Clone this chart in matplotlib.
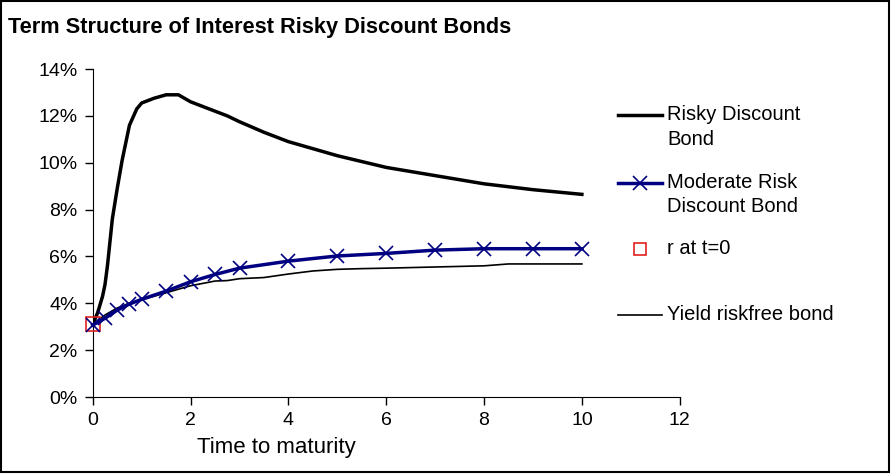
import matplotlib.pyplot as plt
from matplotlib.lines import Line2D
from matplotlib.patches import Rectangle
from matplotlib.ticker import FuncFormatter

plt.rcParams['font.family'] = ['Liberation Sans', 'DejaVu Sans']

# Risky discount bond yield curve (%)
risky_t = [0, 0.1, 0.2, 0.25, 0.3, 0.4, 0.5, 0.6, 0.75, 0.9, 1, 1.25, 1.5, 1.75,
           2, 2.5, 2.75, 3, 3.5, 4, 5, 6, 7, 8, 9, 10]
risky_y = [3.1, 3.6, 4.3, 4.8, 5.6, 7.6, 8.9, 10.1, 11.6, 12.3, 12.55, 12.75, 12.9, 12.9,
           12.6, 12.2, 12.0, 11.75, 11.3, 10.9, 10.3, 9.8, 9.45, 9.1, 8.85, 8.65]

# Moderate risk discount bond (%)
mod_t = [0, 0.25, 0.5, 0.75, 1, 1.5, 2, 2.5, 3, 4, 5, 6, 7, 8, 9, 10]
mod_y = [3.07, 3.36, 3.71, 3.97, 4.17, 4.52, 4.92, 5.23, 5.5, 5.8, 6.02, 6.13, 6.27, 6.33, 6.33, 6.33]

# short rate at t=0 (%)
r0_t = [0]
r0_y = [3.1]

# Yield of riskfree bond (%)
rf_t = [0, 0.25, 0.5, 0.75, 1, 1.5, 2, 2.5, 2.75, 3, 3.5, 4, 4.5, 5, 5.5, 6, 7, 8, 8.5, 9, 10]
rf_y = [3.1, 3.5, 3.8, 4.0, 4.15, 4.45, 4.75, 4.95, 4.97, 5.05, 5.1, 5.25, 5.38, 5.45,
        5.48, 5.5, 5.55, 5.6, 5.68, 5.68, 5.68]

labels = ['Risky Discount\nBond', 'Moderate Risk\nDiscount Bond', 'r at t=0', 'Yield riskfree bond']

fig = plt.figure(figsize=(8.92, 4.74), dpi=100)
ax = fig.add_axes([0.104, 0.1624, 0.658, 0.692])

navy = '#000080'
ax.plot(risky_t, risky_y, color='black', lw=2.5, zorder=3)
ax.plot(r0_t, r0_y, ls='none', marker='s', ms=10, mfc='none', mec='#e02020', mew=1.2,
        zorder=5, clip_on=False)
ax.plot(mod_t, mod_y, color=navy, lw=2.5, marker='x', ms=10, mew=1.2, zorder=6, clip_on=False)
ax.plot(rf_t, rf_y, color='black', lw=1.2, zorder=3)

ax.set_xlim(0, 12)
ax.set_ylim(0, 14)
ax.set_xticks(range(0, 13, 2))
ax.set_yticks(range(0, 15, 2))
ax.yaxis.set_major_formatter(FuncFormatter(lambda v, p: f'{v:.0f}%'))
ax.tick_params(labelsize=14, length=6, width=1, direction='out', pad=5)
for s in ['top', 'right']:
    ax.spines[s].set_visible(False)

# legend, drawn by hand so the key sits on the first line of each label
W, H = 892.0, 474.0
ys = [115, 183, 249, 315]
for i, (lab, yy) in enumerate(zip(labels, ys)):
    fy = 1 - yy / H
    if i == 0:
        fig.add_artist(Line2D([618 / W, 662 / W], [fy, fy], color='black', lw=2.5))
    elif i == 1:
        fig.add_artist(Line2D([618 / W, 662 / W], [fy, fy], color=navy, lw=2.5))
        fig.add_artist(Line2D([640 / W], [fy], marker='x', color=navy, ms=10, mew=1.2))
    elif i == 2:
        fig.add_artist(Line2D([640 / W], [fy], marker='s', ms=8, mfc='none',
                              mec='#e02020', mew=1.2))
    else:
        fig.add_artist(Line2D([618 / W, 662 / W], [fy, fy], color='black', lw=1.2))
    fig.text(667 / W, fy, lab.split('\n')[0], fontsize=14.5, va='center')
    if '\n' in lab:
        fig.text(667 / W, 1 - (yy + 24) / H, lab.split('\n')[1], fontsize=14.5, va='center')

fig.text(197 / W, 1 - 447 / H, 'Time to maturity', fontsize=16, va='center')
fig.text(8 / W, 1 - 27 / H, 'Term Structure of Interest Risky Discount Bonds', fontsize=15.7,
         fontweight='bold', va='center')

fig.patches.append(Rectangle((0.001, 0.004), 0.996, 0.994, transform=fig.transFigure,
                             fill=False, edgecolor='black', lw=1.5))

fig.savefig('out.png', dpi=100)
